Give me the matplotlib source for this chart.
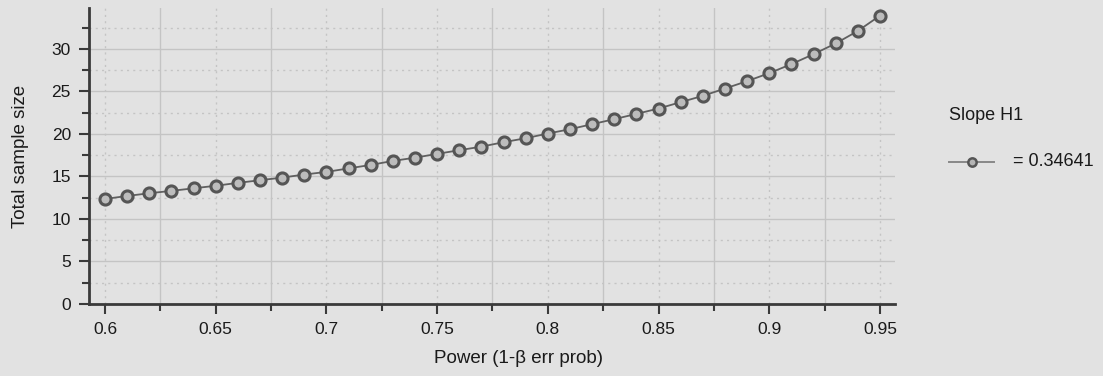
#!/usr/bin/env python3
"""Power curve: total sample size needed for a regression slope test."""

import matplotlib.pyplot as plt
from matplotlib.ticker import MultipleLocator

# power values (1 - beta) and the matching total sample size
power = [0.60, 0.61, 0.62, 0.63, 0.64, 0.65, 0.66, 0.67, 0.68, 0.69,
         0.70, 0.71, 0.72, 0.73, 0.74, 0.75, 0.76, 0.77, 0.78, 0.79,
         0.80, 0.81, 0.82, 0.83, 0.84, 0.85, 0.86, 0.87, 0.88, 0.89,
         0.90, 0.91, 0.92, 0.93, 0.94, 0.95]
sample_size = [12.35, 12.70, 13.02, 13.30, 13.60, 13.90, 14.24, 14.55, 14.86, 15.22,
               15.53, 15.94, 16.35, 16.82, 17.20, 17.65, 18.08, 18.50, 19.02, 19.49,
               20.04, 20.55, 21.14, 21.73, 22.35, 22.98, 23.73, 24.47, 25.33, 26.20,
               27.14, 28.20, 29.37, 30.63, 32.10, 33.90]
slope_h1 = "0.34641"

BG = "#e2e2e2"
GRID = "#c4c4c4"
SPINE = "#3a3a3a"
TEXT = "#1a1a1a"

plt.rcParams["font.family"] = ["Liberation Sans", "DejaVu Sans"]

fig = plt.figure(figsize=(11.03, 3.76), dpi=100, facecolor=BG)
ax = fig.add_axes([89 / 1103, 1 - 304 / 376, (895 - 89) / 1103, (304 - 8) / 376])
ax.set_facecolor(BG)

ax.plot(power, sample_size, color="#606060", linewidth=1.3,
        marker="o", markersize=8, markerfacecolor="#bcbcbc",
        markeredgecolor="#555555", markeredgewidth=2.2, zorder=3)

ax.set_xlim(0.5928, 0.9568)
ax.set_ylim(0, 34.8)
ax.xaxis.set_major_locator(MultipleLocator(0.05))
ax.xaxis.set_minor_locator(MultipleLocator(0.025))
ax.yaxis.set_major_locator(MultipleLocator(5))
ax.yaxis.set_minor_locator(MultipleLocator(2.5))
ax.set_xticks([0.6, 0.65, 0.7, 0.75, 0.8, 0.85, 0.9, 0.95])
ax.set_xticklabels(["0.6", "0.65", "0.7", "0.75", "0.8", "0.85", "0.9", "0.95"])

# x: dotted at labelled ticks, solid in between; y: the other way round
ax.grid(axis="x", which="major", color=GRID, linestyle=(0, (1.5, 3)), linewidth=1.0)
ax.grid(axis="x", which="minor", color=GRID, linestyle="-", linewidth=1.0)
ax.grid(axis="y", which="major", color=GRID, linestyle="-", linewidth=1.0)
ax.grid(axis="y", which="minor", color=GRID, linestyle=(0, (1.5, 3)), linewidth=1.0)
ax.set_axisbelow(True)

for side in ("top", "right"):
    ax.spines[side].set_visible(False)
for side in ("left", "bottom"):
    ax.spines[side].set_color(SPINE)
    ax.spines[side].set_linewidth(2.0)

ax.tick_params(which="major", length=7, width=1.5, color=SPINE,
               labelsize=12.5, labelcolor=TEXT, pad=6)
ax.tick_params(which="minor", length=5, width=1.5, color=SPINE)

ax.set_xlabel("Power (1-β err prob)", fontsize=13.5, color=TEXT)
ax.xaxis.set_label_coords((518 - 89) / 806, -0.155)
ax.set_ylabel("Total sample size", fontsize=13.5, color=TEXT, labelpad=16)

# legend block to the right of the plot
fig.text(949 / 1103, 1 - 116 / 376, "Slope H1", fontsize=13, color=TEXT,
         va="center", ha="left")
fig.add_artist(plt.Line2D([949 / 1103, 994 / 1103], [1 - 162 / 376] * 2,
                          color="#888888", linewidth=1.4))
fig.add_artist(plt.Line2D([972 / 1103], [1 - 162 / 376], marker="o", markersize=6,
                          markerfacecolor="#b4b4b4", markeredgecolor="#555555",
                          markeredgewidth=1.8))
fig.text(1013 / 1103, 1 - 162 / 376, f"= {slope_h1}", fontsize=13,
         color=TEXT, va="center", ha="left")

fig.savefig("out.png", dpi=100, facecolor=BG)
